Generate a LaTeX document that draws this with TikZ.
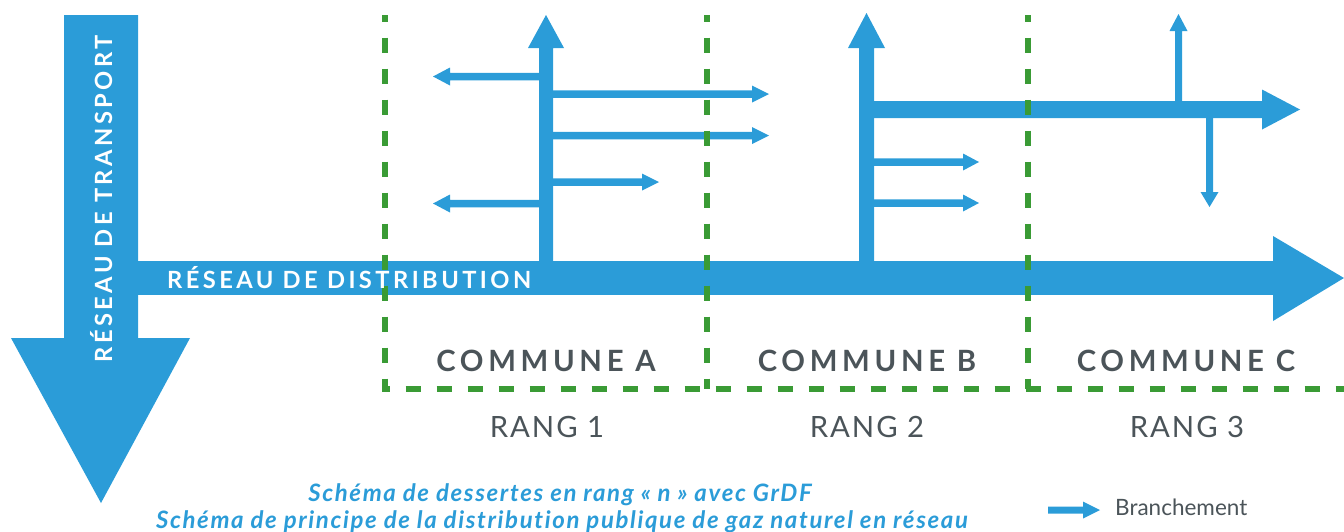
\documentclass[tikz,border=0pt]{standalone}
\usepackage{fontspec}
\setmainfont{Lato}
\newfontfamily\commfam[LetterSpace=16,Ligatures=NoCommon]{Lato}
\newfontfamily\distfam[LetterSpace=14.5,Ligatures=NoCommon]{Lato}
\newfontfamily\rangfam[LetterSpace=6.5,Ligatures=NoCommon]{Lato}
\newfontfamily\capfam[LetterSpace=6.8,Ligatures=NoCommon]{Lato}
\definecolor{gblue}{RGB}{43,156,216}
\definecolor{ggreen}{RGB}{58,155,53}
\definecolor{ggray}{RGB}{75,84,89}
% horizontal arrow: start x, tip x, y, shaft half width, signed head length, head half height
\newcommand\harr[6]{\fill[gblue] (#1,{#3-#4}) -- ({#2-(#5)},{#3-#4}) -- ({#2-(#5)},{#3-#6}) -- (#2,#3) -- ({#2-(#5)},{#3+#6}) -- ({#2-(#5)},{#3+#4}) -- (#1,{#3+#4}) -- cycle;}
% vertical arrow: x, start y, tip y, shaft half width, signed head length, head half width
\newcommand\varr[6]{\fill[gblue] ({#1-#4},#2) -- ({#1-#4},{#3-(#5)}) -- ({#1-#6},{#3-(#5)}) -- (#1,#3) -- ({#1+#6},{#3-(#5)}) -- ({#1+#4},{#3-(#5)}) -- ({#1+#4},#2) -- cycle;}
\tikzset{
  gdash/.style={ggreen, line width=5.5pt, dash pattern=on 15.5pt off 15.5pt, dash phase=8.5pt},
  commlabel/.style={anchor=base, inner sep=0pt, text=ggray, font=\commfam\bfseries\fontsize{29.3}{30}\selectfont},
  ranglabel/.style={anchor=base, inner sep=0pt, text=ggray, font=\rangfam\fontsize{29.3}{30}\selectfont},
  netlabel/.style={inner sep=0pt, text=white, font=\distfam\bfseries\fontsize{23.7}{24}\selectfont},
  caption/.style={anchor=base, inner sep=0pt, text=gblue, font=\capfam\bfseries\itshape\fontsize{24}{24}\selectfont},
}
\begin{document}
\begin{tikzpicture}[x=1pt,y=-1pt]
\useasboundingbox (0,0) rectangle (1344,531);
% transport network
\fill[gblue] (64,15) -- (138,15) -- (138,338) -- (190,338) -- (101,503) -- (11,338) -- (64,338) -- cycle;
% distribution network
\fill[gblue] (137,261) rectangle (1274,295);
\fill[gblue] (1273,236) -- (1344,278) -- (1273,321) -- cycle;
% commune A
\varr{546}{262}{15}{7}{-33}{18}
\harr{546}{433}{76.5}{3.75}{-17}{9}
\harr{546}{769}{94}{3.75}{17}{8.5}
\harr{546}{769}{135.5}{3.75}{17}{8.5}
\harr{546}{659}{182}{3.75}{17}{8.5}
\harr{546}{433}{203.5}{3.75}{-17}{9}
% commune B
\varr{866.5}{262}{13}{7.5}{-35}{18.5}
\harr{866.5}{1300}{109.5}{8.5}{38}{20}
\harr{866.5}{979}{162}{3.75}{16}{8.5}
\harr{866.5}{979}{203}{3.75}{16}{8.5}
% commune C
\varr{1178.5}{110}{14}{3.5}{-17}{9}
\varr{1209.5}{109}{207}{3.5}{15}{9}
% green dashed zones
\draw[gdash] (385,15) -- (385,389) -- (1344,389);
\draw[gdash] (707,15) -- (707,389);
\draw[gdash] (1028,15) -- (1028,389);
% labels
\node[netlabel, rotate=90, anchor=base] (transport) at (112,199) {RÉSEAU DE TRANSPORT};
\node[netlabel, anchor=base west] (distribution) at (167,288) {RÉSEAU DE DISTRIBUTION};
\node[commlabel] (ca) at (546,371) {COMMUNE A};
\node[commlabel] (cb) at (867,371) {COMMUNE B};
\node[commlabel] (cc) at (1186,371) {COMMUNE C};
\node[ranglabel] (r1) at (547,437) {RANG 1};
\node[ranglabel] (r2) at (867,437) {RANG 2};
\node[ranglabel] (r3) at (1187,437) {RANG 3};
\node[caption] (cap1) at (560,501) {Schéma de dessertes en rang «~n~» avec GrDF};
\node[caption] (cap2) at (562,528) {Schéma de principe de la distribution publique de gaz naturel en réseau};
% legend
\harr{1048}{1100}{510}{3.5}{17}{8.5}
\node[anchor=base west, inner sep=0pt, text=ggray, font=\fontsize{22.5}{22.5}\selectfont] (legend) at (1115,515) {Branchement};
\end{tikzpicture}
\end{document}
